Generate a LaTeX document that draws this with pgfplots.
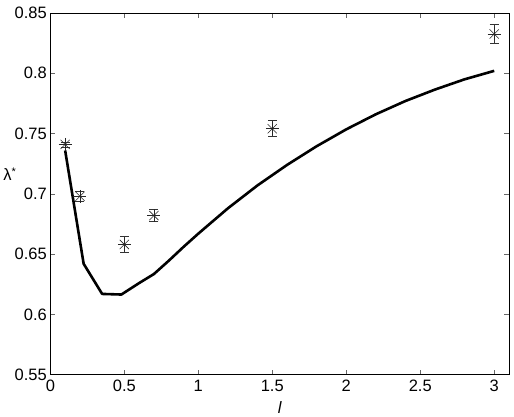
\documentclass[border=0pt]{standalone}
\usepackage{pgfplots}
\pgfplotsset{compat=1.18}
\usepackage{fontspec}
\setmainfont{Liberation Sans}
\begin{document}
\begin{tikzpicture}
\begin{axis}[
  scale only axis,
  width=459pt, height=362pt,
  xmin=0, xmax=3.1, ymin=0.55, ymax=0.85,
  xtick={0,0.5,1,1.5,2,2.5,3},
  ytick={0.55,0.6,0.65,0.7,0.75,0.8,0.85},
  xticklabels={0,0.5,1,1.5,2,2.5,3},
  yticklabels={0.55,0.6,0.65,0.7,0.75,0.8,0.85},
  tick pos=both,
  tick align=inside,
  major tick length=5pt,
  tick style={black!60, line width=0.6pt},
  axis line style={black, line width=0.8pt},
  ticklabel style={font=\fontsize{16.5}{19}\selectfont},
  xticklabel style={yshift=-2pt},
  yticklabel style={xshift=0pt},
  xlabel={\fontsize{16.5}{19}\selectfont\itshape l},
  xlabel style={at={(rel axis cs:0.5,0)}, anchor=north, yshift=-23pt},
  ylabel={\fontsize{16.5}{19}\selectfont λ\raisebox{0.6ex}{\fontsize{11}{12}\selectfont *}},
  ylabel style={rotate=-90, at={(rel axis cs:0,0.5)}, anchor=base east, xshift=-31pt, yshift=13pt},
  clip=false,
]
\addplot[black, line width=2.6pt, line join=round] coordinates {
(0.1,0.736) (0.225,0.642) (0.35,0.617) (0.48,0.6165) (0.6,0.626)
(0.7,0.6335) (0.8,0.6445) (0.9,0.656) (1.0,0.667) (1.2,0.688)
(1.4,0.707) (1.6,0.724) (1.8,0.7395) (2.0,0.7535) (2.2,0.766)
(2.4,0.777) (2.6,0.7865) (2.8,0.795) (3.0,0.802)
};
\addplot[black!85, line width=0.6pt, only marks, mark=+, mark size=6.5pt,
  error bars/.cd, y dir=both, y explicit,
  error bar style={black!80, line width=0.6pt},
  error mark options={rotate=90, mark size=4.5pt, black!80, line width=0.6pt}]
coordinates {
(0.1,0.741) +- (0,0.002)
(0.2,0.698) +- (0,0.004)
(0.5,0.658) +- (0,0.0066)
(0.7,0.682) +- (0,0.005)
(1.5,0.754) +- (0,0.0066)
(3.0,0.8326) +- (0,0.008)
};
\addplot[black!85, line width=0.6pt, only marks, mark=x, mark size=6.5pt]
coordinates {
(0.1,0.741) (0.2,0.698) (0.5,0.658) (0.7,0.682) (1.5,0.754) (3.0,0.8326)
};
\draw[black, line width=0.8pt] (rel axis cs:0,1) -- (rel axis cs:1,1) -- (rel axis cs:1,0);
\path (rel axis cs:0,0) ++(-50pt,-40pt) (rel axis cs:1,1) ++(5pt,13pt);
\end{axis}
\end{tikzpicture}
\end{document}
